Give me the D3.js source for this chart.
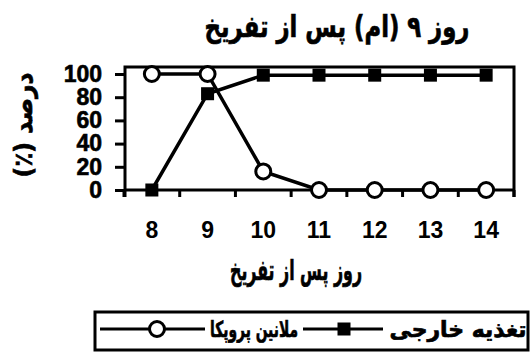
<!DOCTYPE html>
<html>
<head>
<meta charset="utf-8">
<script src="https://cdn.jsdelivr.net/npm/d3@7/dist/d3.min.js"></script>
<style>
body { margin: 0; background: #fff; }
svg { display: block; }
.fa { font-family: "DejaVu Sans", sans-serif; font-weight: bold; direction: rtl;
      stroke: #000; stroke-width: 0.7px; }
.num { font-family: "Liberation Sans", Arial, sans-serif; font-weight: bold; }
</style>
</head>
<body>
<script>
// data
var days = [8, 9, 10, 11, 12, 13, 14];
var feeding = [0, 83, 99, 99, 99, 99, 99];   // تغذیه خارجی  (squares)
var melanin = [100, 100, 16, 0, 0, 0, 0];    // ملانین پروپکا (circles)
var yTicks = [0, 20, 40, 60, 80, 100];
var chartTitle = "روز ۹ (ام) پس از تفریخ";
var xTitle = "روز پس از تفریخ";
var yTitle = "درصد (٪)";
var legendNames = ["تغذیه خارجی", "ملانین پروپکا"];

var svgWidth = 530, svgHeight = 360;

var svg = d3.select("body").append("svg")
  .attr("width", svgWidth)
  .attr("height", svgHeight);

// scales
var x = d3.scaleBand().domain(days).range([124, 514]);
var y = d3.scaleLinear().domain([0, 100]).range([190, 74]);
var bw = x.bandwidth();
var yTop = 106; // frame sits a little above 100

// y axis (ticks + labels)
var yAxis = svg.append("g")
  .attr("class", "num")
  .attr("transform", "translate(125,0)")
  .call(d3.axisLeft(y).tickValues(yTicks).tickSize(10).tickPadding(13));
yAxis.select(".domain").remove();
yAxis.selectAll(".tick line").attr("stroke", "#000").attr("stroke-width", 3);
yAxis.selectAll(".tick text").attr("font-size", 23).attr("fill", "#000")
  .attr("font-family", null)
  .attr("stroke", "#000").attr("stroke-width", 0.6);

// x axis labels
var xAxis = svg.append("g")
  .attr("class", "num")
  .attr("transform", "translate(0," + y(0) + ")")
  .call(d3.axisBottom(x).tickSize(0).tickPadding(32));
xAxis.select(".domain").remove();
xAxis.selectAll(".tick text").attr("font-size", 23).attr("fill", "#000")
  .attr("font-family", null);

// x ticks on the band edges
var edges = days.map(function(d) { return x(d); }).concat([x.range()[1]]);
svg.selectAll(".xedge")
  .data(edges)
  .enter().append("line")
  .attr("class", "xedge")
  .attr("x1", function(d) { return d; })
  .attr("x2", function(d) { return d; })
  .attr("y1", y(0))
  .attr("y2", y(0) + 7)
  .attr("stroke", "#000")
  .attr("stroke-width", 3);

// frame: left axis, top, right and bottom lines
svg.append("path")
  .attr("d", "M" + (x.range()[0] + 1) + "," + (y(0) + 7) +
             "V" + y(yTop) + "H" + x.range()[1] + "V" + (y(0) + 7))
  .attr("fill", "none")
  .attr("stroke", "#000")
  .attr("stroke-width", 3);
svg.append("line")
  .attr("x1", x.range()[0]).attr("x2", x.range()[1])
  .attr("y1", y(0)).attr("y2", y(0))
  .attr("stroke", "#000")
  .attr("stroke-width", 3);

// series
var line = d3.line()
  .x(function(d, i) { return x(days[i]) + bw / 2; })
  .y(function(d) { return y(d); });

svg.append("path")
  .datum(feeding)
  .attr("d", line)
  .attr("fill", "none")
  .attr("stroke", "#000")
  .attr("stroke-width", 3.5);

svg.append("path")
  .datum(melanin)
  .attr("d", line)
  .attr("fill", "none")
  .attr("stroke", "#000")
  .attr("stroke-width", 3.5);

svg.selectAll(".sq")
  .data(feeding)
  .enter().append("rect")
  .attr("class", "sq")
  .attr("x", function(d, i) { return x(days[i]) + bw / 2 - 6.5; })
  .attr("y", function(d) { return y(d) - 6.5; })
  .attr("width", 13)
  .attr("height", 13)
  .attr("fill", "#000");

svg.selectAll(".dot")
  .data(melanin)
  .enter().append("circle")
  .attr("class", "dot")
  .attr("cx", function(d, i) { return x(days[i]) + bw / 2; })
  .attr("cy", function(d) { return y(d); })
  .attr("r", 7.5)
  .attr("fill", "#fff")
  .attr("stroke", "#000")
  .attr("stroke-width", 3);

// titles
svg.append("text")
  .attr("class", "fa")
  .attr("x", 337).attr("y", 37)
  .attr("text-anchor", "middle")
  .attr("font-size", 30)
  .attr("textLength", 265)
  .attr("lengthAdjust", "spacingAndGlyphs")
  .text(chartTitle);

svg.append("text")
  .attr("class", "fa")
  .attr("x", 296).attr("y", 280)
  .attr("text-anchor", "middle")
  .attr("font-size", 28)
  .attr("textLength", 132)
  .attr("lengthAdjust", "spacingAndGlyphs")
  .text(xTitle);

svg.append("text")
  .attr("class", "fa")
  .attr("transform", "translate(32,125) rotate(-90)")
  .attr("text-anchor", "middle")
  .attr("font-size", 25)
  .attr("textLength", 105)
  .attr("lengthAdjust", "spacingAndGlyphs")
  .text(yTitle);

// legend
var legend = svg.append("g");
legend.append("rect")
  .attr("x", 95).attr("y", 312)
  .attr("width", 433).attr("height", 38)
  .attr("fill", "none")
  .attr("stroke", "#000")
  .attr("stroke-width", 3);

var legendItems = [
  {name: legendNames[0], cx: 458, w: 137, x1: 303, x2: 383, mx: 344, mark: "square"},
  {name: legendNames[1], cx: 254, w: 88, x1: 100, x2: 205, mx: 157, mark: "circle"}
];

legendItems.forEach(function(it) {
  legend.append("text")
    .attr("class", "fa")
    .attr("x", it.cx).attr("y", 337)
    .attr("text-anchor", "middle")
    .attr("font-size", 22)
    .attr("textLength", it.w)
    .attr("lengthAdjust", "spacingAndGlyphs")
    .text(it.name);
  legend.append("line")
    .attr("x1", it.x1).attr("x2", it.x2)
    .attr("y1", 329).attr("y2", 329)
    .attr("stroke", "#000")
    .attr("stroke-width", 3);
  if (it.mark == "square") {
    legend.append("rect")
      .attr("x", it.mx - 6.5).attr("y", 329 - 6.5)
      .attr("width", 13).attr("height", 13)
      .attr("fill", "#000");
  } else {
    legend.append("circle")
      .attr("cx", it.mx).attr("cy", 329)
      .attr("r", 7.5)
      .attr("fill", "#fff")
      .attr("stroke", "#000")
      .attr("stroke-width", 3);
  }
});
</script>
</body>
</html>
